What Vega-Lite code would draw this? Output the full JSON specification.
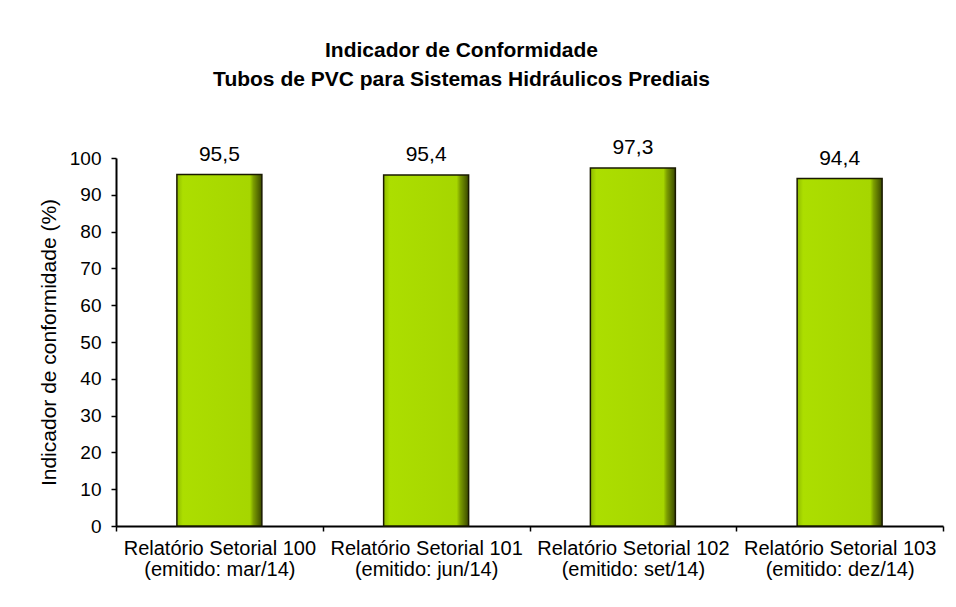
{
  "$schema": "https://vega.github.io/schema/vega-lite/v6.json",
  "width": 827,
  "height": 368,
  "autosize": {"type": "none"},
  "padding": {"left": 116, "top": 158, "right": 13, "bottom": 81},
  "background": "white",
  "config": {
    "locale": {"number": {"decimal": ",", "thousands": ".", "grouping": [3], "currency": ["R$", ""]}},
    "view": {"stroke": null},
    "font": "Liberation Sans"
  },
  "title": {
    "text": ["Indicador de Conformidade", "Tubos de PVC para Sistemas Hidráulicos Prediais"],
    "font": "Liberation Sans",
    "fontSize": 21,
    "fontWeight": "bold",
    "color": "black",
    "lineHeight": 29,
    "anchor": "middle",
    "frame": "group",
    "dx": -68,
    "offset": 47
  },
  "data": {
    "values": [
      {"relatorio": "Relatório Setorial 100|(emitido: mar/14)", "valor": 95.5},
      {"relatorio": "Relatório Setorial 101|(emitido: jun/14)", "valor": 95.4},
      {"relatorio": "Relatório Setorial 102|(emitido: set/14)", "valor": 97.3},
      {"relatorio": "Relatório Setorial 103|(emitido: dez/14)", "valor": 94.4}
    ]
  },
  "encoding": {
    "x": {
      "field": "relatorio",
      "type": "nominal",
      "sort": null,
      "scale": {"paddingInner": 0, "paddingOuter": 0},
      "axis": {
        "title": null,
        "labelAngle": 0,
        "labelExpr": "split(datum.label, '|')",
        "labelFont": "Liberation Sans",
        "labelFontSize": 20,
        "labelLineHeight": 21,
        "labelColor": "black",
        "labelPadding": 7,
        "labelLimit": 400,
        "labelOverlap": false,
        "labelBaseline": "top",
        "tickBand": "extent",
        "tickSize": 5,
        "tickColor": "black",
        "tickWidth": 1.5,
        "domainColor": "black",
        "domainWidth": 2,
        "grid": false
      }
    },
    "y": {
      "field": "valor",
      "type": "quantitative",
      "scale": {"domain": [0, 100], "nice": false},
      "axis": {
        "title": "Indicador de conformidade (%)",
        "titleFont": "Liberation Sans",
        "titleFontSize": 21,
        "titleFontWeight": "normal",
        "titleColor": "black",
        "titlePadding": 10,
        "values": [0, 10, 20, 30, 40, 50, 60, 70, 80, 90, 100],
        "labelFont": "Liberation Sans",
        "labelFontSize": 19,
        "labelColor": "black",
        "labelPadding": 10,
        "tickSize": 5,
        "tickColor": "black",
        "tickWidth": 1.5,
        "domainColor": "black",
        "domainWidth": 2,
        "grid": false
      }
    }
  },
  "layer": [
    {
      "mark": {
        "type": "bar",
        "width": {"band": 0.411},
        "stroke": "#1a1a00",
        "strokeWidth": 1.5,
        "fill": {
          "x1": 0, "y1": 0, "x2": 1, "y2": 0,
          "gradient": "linear",
          "stops": [
            {"offset": 0, "color": "#8fbc00"},
            {"offset": 0.07, "color": "#acde00"},
            {"offset": 0.86, "color": "#a6d600"},
            {"offset": 0.9, "color": "#7c9e00"},
            {"offset": 1, "color": "#3a4800"}
          ]
        }
      }
    },
    {
      "mark": {
        "type": "text",
        "baseline": "alphabetic",
        "dy": -14,
        "font": "Liberation Sans",
        "fontSize": 21,
        "color": "black"
      },
      "encoding": {
        "text": {"field": "valor", "type": "quantitative", "format": ".1f"}
      }
    }
  ]
}
